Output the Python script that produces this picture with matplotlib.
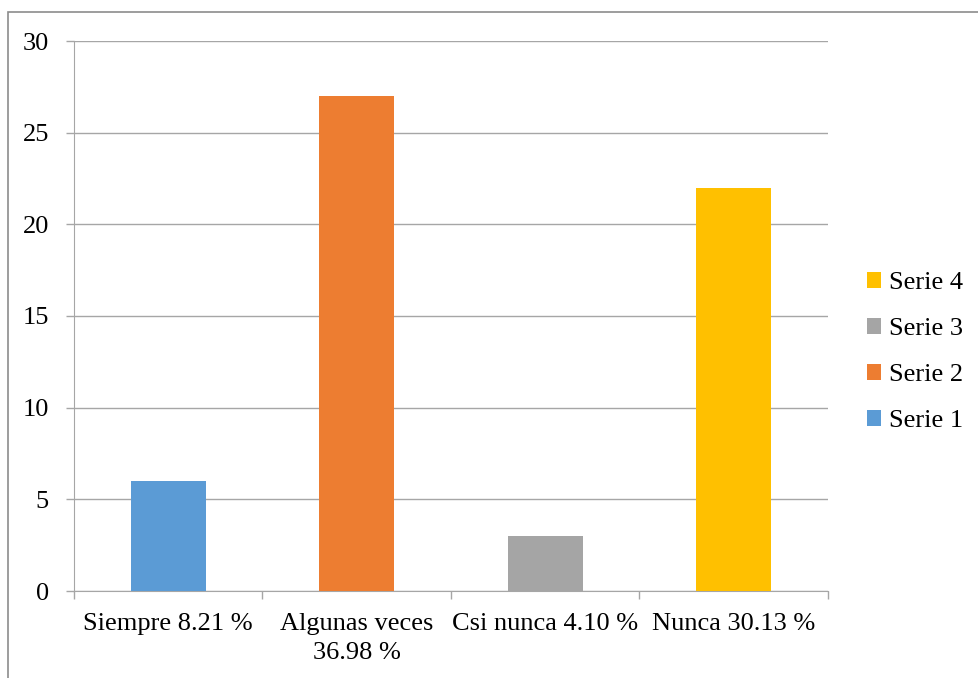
import matplotlib.pyplot as plt
import numpy as np
from matplotlib.patches import Rectangle

categories = ['Siempre 8.21 %', 'Algunas veces\n36.98 %', 'Csi nunca 4.10 %', 'Nunca 30.13 %']
series = ['Serie 1', 'Serie 2', 'Serie 3', 'Serie 4']
values = [6, 27, 3, 22]
colors = ['#5b9bd5', '#ed7d31', '#a5a5a5', '#ffc000']
yticks = [0, 5, 10, 15, 20, 25, 30]

plt.rcParams['font.family'] = ['Liberation Serif', 'DejaVu Serif']

fig = plt.figure(figsize=(9.79, 6.78), dpi=100)
ax = fig.add_axes([74/979, 1 - 591/678, (828-74)/979, (591-41)/678])

x = np.arange(len(categories))
handles = []
for i, (s, v, c) in enumerate(zip(series, values, colors)):
    h = ax.bar(x[i], v, width=0.4, color=c, label=s, zorder=3)
    handles.append(h)

ax.set_xlim(-0.5, len(categories) - 0.5)
ax.set_ylim(0, 30)
ax.set_yticks(yticks)
ax.set_yticklabels([str(t) for t in yticks], fontsize=19)
ax.set_xticks(x)
ax.set_xticklabels(categories, fontsize=19, linespacing=1.4)
ax.set_xticks(np.arange(len(categories) + 1) - 0.5, minor=True)
ax.tick_params(axis='x', which='major', length=0, pad=16)
ax.tick_params(axis='x', which='minor', length=6, color='#a6a6a6', width=1)
ax.tick_params(axis='y', length=6, color='#a6a6a6', width=1, pad=12)

ax.yaxis.grid(True, color='#a6a6a6', linewidth=1, zorder=0)
for side in ['top', 'right']:
    ax.spines[side].set_visible(False)
ax.spines['left'].set_color('#a6a6a6')
ax.spines['bottom'].set_color('#a6a6a6')

leg = fig.legend(handles[::-1], series[::-1], loc='center left',
                 bbox_to_anchor=(856/979, 1 - 352/678), frameon=False,
                 fontsize=19, handlelength=0.55, handleheight=0.55,
                 handletextpad=0.3, labelspacing=0.9, borderaxespad=0)

fig.patches.append(Rectangle((8/979, -0.5), 2, 0.5 + (1 - 12/678), transform=fig.transFigure,
                             fill=False, edgecolor='#8c8c8c', linewidth=1.2))

fig.savefig('out.png', dpi=100)
